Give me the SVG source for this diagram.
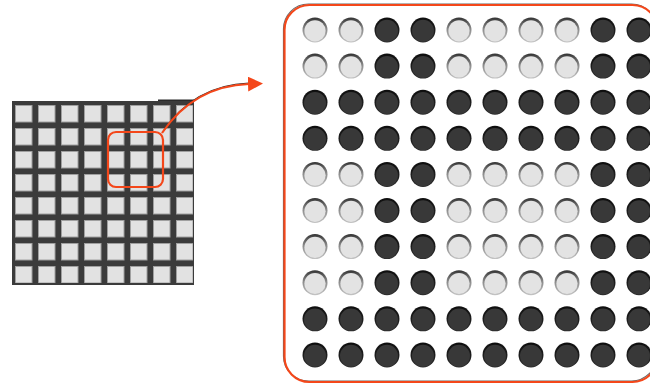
<svg xmlns="http://www.w3.org/2000/svg" width="650" height="384" viewBox="0 0 650 384">
  <defs>
    <style>
      .cell { fill: #e2e2e2; stroke: #a0a0a0; stroke-width: 1; }
      .orange { fill: none; stroke: #f4471a; stroke-width: 2.2; }
      .shadow { fill: none; stroke: #2a2a2a; stroke-width: 1.2; }
    </style>
    <linearGradient id="rimL" x1="0" y1="0" x2="0" y2="1">
      <stop offset="0" stop-color="#333333"/>
      <stop offset="0.45" stop-color="#8a8a8a"/>
      <stop offset="1" stop-color="#c4c4c4"/>
    </linearGradient>
    <linearGradient id="rimD" x1="0" y1="0" x2="0" y2="1">
      <stop offset="0" stop-color="#0e0e0e"/>
      <stop offset="1" stop-color="#2a2a2a"/>
    </linearGradient>
    <g id="L">
      <circle r="12.5" fill="url(#rimL)"/>
      <circle cy="0.8" r="10.6" fill="#e3e3e3"/>
    </g>
    <g id="D">
      <circle r="12.5" fill="url(#rimD)"/>
      <circle cy="0.8" r="11" fill="#383838"/>
    </g>
    <pattern id="cells" x="15" y="105" width="23" height="23" patternUnits="userSpaceOnUse">
      <rect x="0.5" y="0.5" width="16.5" height="16.5" class="cell"/>
    </pattern>
    <marker id="arrow" markerUnits="userSpaceOnUse" markerWidth="16" markerHeight="16" refX="1" refY="7.5" orient="auto">
      <path d="M0,0 L15,7.5 L0,15 z" fill="#f4471a"/>
    </marker>
  </defs>

  <g id="grid">
    <rect x="158" y="99.5" width="36" height="2" fill="#2a2a2a"/>
    <rect x="12" y="101" width="182" height="184" fill="#3b3b3b"/>
    <rect x="15" y="105" width="178" height="178" fill="url(#cells)"/>
  </g>

  <g id="highlight">
    <rect x="108" y="132" width="55" height="55" rx="8" class="orange"/>
  </g>

  <g id="panel">
    <rect x="283.5" y="4" width="373" height="377" rx="25" class="shadow" opacity="0.7"/>
    <rect x="284.5" y="5" width="373" height="377" rx="25" fill="#ffffff" class="orange"/>
    <g id="dots">
      <!-- row 1 -->
      <use href="#L" x="315" y="30"/><use href="#L" x="351" y="30"/><use href="#D" x="387" y="30"/><use href="#D" x="423" y="30"/><use href="#L" x="459" y="30"/><use href="#L" x="495" y="30"/><use href="#L" x="531" y="30"/><use href="#L" x="567" y="30"/><use href="#D" x="603" y="30"/><use href="#D" x="639" y="30"/>
      <!-- row 2 -->
      <use href="#L" x="315" y="66.1"/><use href="#L" x="351" y="66.1"/><use href="#D" x="387" y="66.1"/><use href="#D" x="423" y="66.1"/><use href="#L" x="459" y="66.1"/><use href="#L" x="495" y="66.1"/><use href="#L" x="531" y="66.1"/><use href="#L" x="567" y="66.1"/><use href="#D" x="603" y="66.1"/><use href="#D" x="639" y="66.1"/>
      <!-- row 3 -->
      <use href="#D" x="315" y="102.2"/><use href="#D" x="351" y="102.2"/><use href="#D" x="387" y="102.2"/><use href="#D" x="423" y="102.2"/><use href="#D" x="459" y="102.2"/><use href="#D" x="495" y="102.2"/><use href="#D" x="531" y="102.2"/><use href="#D" x="567" y="102.2"/><use href="#D" x="603" y="102.2"/><use href="#D" x="639" y="102.2"/>
      <!-- row 4 -->
      <use href="#D" x="315" y="138.3"/><use href="#D" x="351" y="138.3"/><use href="#D" x="387" y="138.3"/><use href="#D" x="423" y="138.3"/><use href="#D" x="459" y="138.3"/><use href="#D" x="495" y="138.3"/><use href="#D" x="531" y="138.3"/><use href="#D" x="567" y="138.3"/><use href="#D" x="603" y="138.3"/><use href="#D" x="639" y="138.3"/>
      <!-- row 5 -->
      <use href="#L" x="315" y="174.4"/><use href="#L" x="351" y="174.4"/><use href="#D" x="387" y="174.4"/><use href="#D" x="423" y="174.4"/><use href="#L" x="459" y="174.4"/><use href="#L" x="495" y="174.4"/><use href="#L" x="531" y="174.4"/><use href="#L" x="567" y="174.4"/><use href="#D" x="603" y="174.4"/><use href="#D" x="639" y="174.4"/>
      <!-- row 6 -->
      <use href="#L" x="315" y="210.5"/><use href="#L" x="351" y="210.5"/><use href="#D" x="387" y="210.5"/><use href="#D" x="423" y="210.5"/><use href="#L" x="459" y="210.5"/><use href="#L" x="495" y="210.5"/><use href="#L" x="531" y="210.5"/><use href="#L" x="567" y="210.5"/><use href="#D" x="603" y="210.5"/><use href="#D" x="639" y="210.5"/>
      <!-- row 7 -->
      <use href="#L" x="315" y="246.6"/><use href="#L" x="351" y="246.6"/><use href="#D" x="387" y="246.6"/><use href="#D" x="423" y="246.6"/><use href="#L" x="459" y="246.6"/><use href="#L" x="495" y="246.6"/><use href="#L" x="531" y="246.6"/><use href="#L" x="567" y="246.6"/><use href="#D" x="603" y="246.6"/><use href="#D" x="639" y="246.6"/>
      <!-- row 8 -->
      <use href="#L" x="315" y="282.7"/><use href="#L" x="351" y="282.7"/><use href="#D" x="387" y="282.7"/><use href="#D" x="423" y="282.7"/><use href="#L" x="459" y="282.7"/><use href="#L" x="495" y="282.7"/><use href="#L" x="531" y="282.7"/><use href="#L" x="567" y="282.7"/><use href="#D" x="603" y="282.7"/><use href="#D" x="639" y="282.7"/>
      <!-- row 9 -->
      <use href="#D" x="315" y="318.8"/><use href="#D" x="351" y="318.8"/><use href="#D" x="387" y="318.8"/><use href="#D" x="423" y="318.8"/><use href="#D" x="459" y="318.8"/><use href="#D" x="495" y="318.8"/><use href="#D" x="531" y="318.8"/><use href="#D" x="567" y="318.8"/><use href="#D" x="603" y="318.8"/><use href="#D" x="639" y="318.8"/>
      <!-- row 10 -->
      <use href="#D" x="315" y="354.9"/><use href="#D" x="351" y="354.9"/><use href="#D" x="387" y="354.9"/><use href="#D" x="423" y="354.9"/><use href="#D" x="459" y="354.9"/><use href="#D" x="495" y="354.9"/><use href="#D" x="531" y="354.9"/><use href="#D" x="567" y="354.9"/><use href="#D" x="603" y="354.9"/><use href="#D" x="639" y="354.9"/>
    </g>
  </g>

  <g id="connectors">
    <path d="M163,131.5 Q194,85 249,83" class="shadow" stroke-width="1.6"/>
    <path d="M162,133 Q194,86 249,84" class="orange" marker-end="url(#arrow)"/>
  </g>
</svg>
